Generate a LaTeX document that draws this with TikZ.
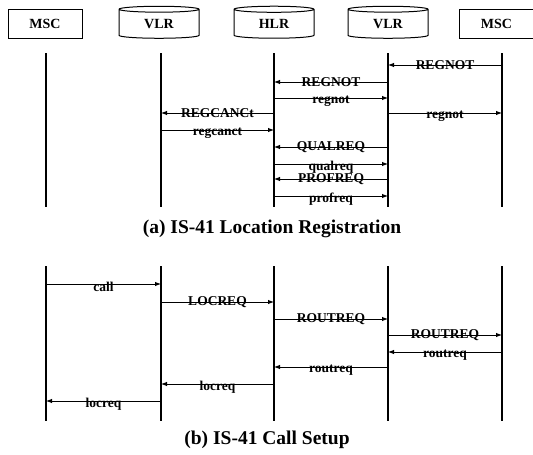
\documentclass[tikz,border=0pt]{standalone}
\usepackage{fontspec}
\setmainfont{Liberation Serif}
\usetikzlibrary{arrows.meta,shapes.geometric}
\tikzset{
  box/.style={draw,line width=1pt,minimum width=74pt,minimum height=29pt,inner sep=0pt,font=\fontsize{14}{16}\selectfont\bfseries},
  db/.style={cylinder,shape border rotate=90,draw,line width=1pt,aspect=0.2,minimum width=80pt,minimum height=32pt,inner sep=0pt,font=\fontsize{14}{16}\selectfont\bfseries},
  life/.style={line width=1.2pt},
  msg/.style={-{Latex[length=6pt,width=4.5pt]},line width=0.9pt},
  lab/.style={font=\fontsize{13.5}{15}\selectfont\bfseries,inner sep=0pt},
  lablow/.style={lab,yshift=-3pt},
  capt/.style={font=\fontsize{19.5}{23}\selectfont\bfseries},
}
\begin{document}
\begin{tikzpicture}[x=1pt,y=-1pt]
  \useasboundingbox (0,0) rectangle (533,455);
  % headers
  \node[box] (msc1) at (45,23.5) {MSC};
  \node[db]  (vlr1) at (159,24) {VLR};
  \node[db]  (hlr)  at (274,24) {HLR};
  \node[db]  (vlr2) at (388,24) {VLR};
  \node[box] (msc2) at (496.5,23.5) {MSC};
  % lifelines
  \coordinate (x1) at (46,0);
  \coordinate (x2) at (161,0);
  \coordinate (x3) at (274,0);
  \coordinate (x4) at (388,0);
  \coordinate (x5) at (502,0);
  \foreach \i in {1,...,5}{
    \draw[life] (x\i |- 0,53) -- (x\i |- 0,207);
    \draw[life] (x\i |- 0,266) -- (x\i |- 0,421);
  }
  % (a) location registration
  \foreach \a/\b/\y/\t/\s in {x5/x4/65/REGNOT/lab, x4/x3/82/REGNOT/lab, x3/x4/98/regnot/lablow,
      x3/x2/113/REGCANCt/lab, x4/x5/113/regnot/lablow, x2/x3/130/regcanct/lablow,
      x4/x3/147/QUALREQ/lab, x3/x4/164/qualreq/lablow, x4/x3/179/PROFREQ/lab, x3/x4/196/profreq/lablow}{
    \draw[msg] (\a |- 0,\y) -- (\b |- 0,\y) node[midway,\s]{\t};
  }
  \node[capt] (capa) at (272,229) {(a) IS-41 Location Registration};
  % (b) call setup
  \foreach \a/\b/\y/\t/\s in {x1/x2/284/call/lablow, x2/x3/302/LOCREQ/lab, x3/x4/319/ROUTREQ/lab,
      x4/x5/335/ROUTREQ/lab, x5/x4/352/routreq/lablow, x4/x3/367/routreq/lablow,
      x3/x2/384/locreq/lablow, x2/x1/401/locreq/lablow}{
    \draw[msg] (\a |- 0,\y) -- (\b |- 0,\y) node[midway,\s]{\t};
  }
  \node[capt] (capb) at (267,440) {(b) IS-41 Call Setup};
\end{tikzpicture}
\end{document}
